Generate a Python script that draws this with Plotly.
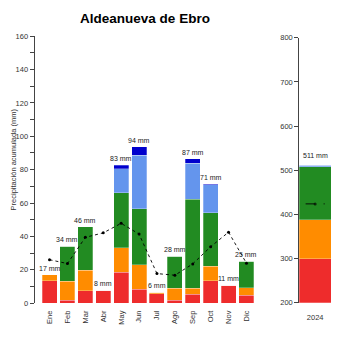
import plotly.graph_objects as go

months = ["Ene", "Feb", "Mar", "Abr", "May", "Jun", "Jul", "Ago", "Sep", "Oct", "Nov", "Dic"]
red = [13.4, 1.7, 7.4, 7.8, 18.6, 8.3, 5.6, 1.7, 5.4, 13.4, 10.8, 4.7]
orange = [3.6, 11.3, 12.4, 0, 14.6, 14.6, 0.8, 7.2, 3.5, 8.6, 0, 4.6]
green = [0, 21.2, 26.0, 0, 32.8, 33.6, 0, 19.1, 53.4, 32.2, 0, 15.9]
lightblue = [0, 0, 0, 0, 14.4, 32.2, 0, 0, 21.4, 16.7, 0, 0]
darkblue = [0, 0, 0, 0, 2.3, 5.0, 0, 0, 2.9, 0.4, 0, 0]
clim_mean = [26.0, 23.7, 39.4, 42.1, 47.8, 41.4, 17.7, 16.7, 23.5, 33.8, 42.5, 23.9]

year = ["2024"]
annual_red = [300]
annual_orange = [88]
annual_green = [119.5]
annual_lightblue = [3.5]
annual_darkblue = [0]
annual_mean = [424]
annual_total_label = [511]

colors = ["#EE2C2C", "#FF8C00", "#228B22", "#6495ED", "#0000CD"]
segments = [red, orange, green, lightblue, darkblue]
annual_segments = [annual_red, annual_orange, annual_green, annual_lightblue, annual_darkblue]

W, H = 350, 350
FONT = "Liberation Sans, Arial, sans-serif"
fig = go.Figure()

bw = 0.84
for seg, col in zip(segments, colors):
    fig.add_trace(go.Bar(x=months, y=seg, marker=dict(color=col, line=dict(color="rgba(255,255,255,0.45)", width=0.6)),
                         width=bw, xaxis="x", yaxis="y", showlegend=False))

fig.add_trace(go.Scatter(x=months, y=clim_mean, mode="lines+markers",
                         line=dict(color="black", width=0.9, dash="dot"),
                         marker=dict(color="black", size=3, line=dict(width=0)), xaxis="x", yaxis="y", showlegend=False))

# annual panel (numeric axis, bar at 0)
for seg, col in zip(annual_segments, colors):
    fig.add_trace(go.Bar(x=[0], y=seg, marker=dict(color=col, line=dict(color="rgba(255,255,255,0.45)", width=0.6)),
                         width=1.0, xaxis="x2", yaxis="y2", showlegend=False))
fig.add_trace(go.Scatter(x=[-0.3, 0, 0.3], y=annual_mean * 3, mode="lines+markers",
                         line=dict(color="black", width=0.9, dash="dash"),
                         marker=dict(color="black", size=[0, 3, 0], line=dict(width=0)),
                         xaxis="x2", yaxis="y2", showlegend=False))

annotations = []
totals = [sum(v) for v in zip(*segments)]
for m, t in zip(months, totals):
    annotations.append(dict(x=m, y=t, xref="x", yref="y", text=f"{round(t)} mm", showarrow=False,
                            yanchor="bottom", yshift=1, font=dict(size=7, color="#222", family=FONT)))
annotations.append(dict(x=0, y=annual_total_label[0], xref="x2", yref="y2", text=f"{annual_total_label[0]} mm",
                        showarrow=False, yanchor="bottom", yshift=4, font=dict(size=7, color="#222", family=FONT)))
annotations.append(dict(x=7 / W, y=1 - 160 / H, xref="paper", yref="paper", text="Precipitación acumulada (mm)",
                        textangle=-90, showarrow=False, font=dict(size=7.5, color="#333", family=FONT)))

tickfont = dict(size=7.5, color="#333", family=FONT)
fig.update_layout(
    width=W, height=H, margin=dict(l=0, r=0, t=0, b=0),
    paper_bgcolor="white", plot_bgcolor="white", barmode="stack",
    title=dict(text="<b>Aldeanueva de Ebro</b>", x=145 / W, xanchor="center", y=1 - 18 / H, yanchor="middle",
               font=dict(size=13.5, color="black", family=FONT)),
    xaxis=dict(domain=[33.6 / W, 262.4 / W], range=[-0.89, 11.89], showline=False, showgrid=False,
               ticks="", tickangle=-90, tickfont=tickfont, anchor="y", zeroline=False, ticklabelstandoff=5),
    yaxis=dict(domain=[(H - 307) / H, (H - 33) / H], range=[0, 160], showline=True, linecolor="#444", linewidth=1,
               ticks="outside", ticklen=4, tickcolor="#444", dtick=20, tick0=0, tickfont=tickfont,
               showgrid=False, zeroline=False, anchor="free", position=33.6 / W,
               minor=dict(dtick=10, tick0=0, ticks="outside", ticklen=4, tickcolor="#444", showgrid=False)),
    xaxis2=dict(domain=[298.3 / W, 332 / W], range=[-0.53, 0.53], tickvals=[0], ticktext=year, ticks="",
                showline=False, showgrid=False, zeroline=False, tickfont=tickfont, anchor="y2",
                ticklabelstandoff=9),
    yaxis2=dict(domain=[(H - 306.7) / H, (H - 34.7) / H], range=[200, 800], dtick=100, showline=True,
                linecolor="#444", linewidth=1, ticks="outside", ticklen=4, tickcolor="#444", tickfont=tickfont,
                showgrid=False, zeroline=False, anchor="free", position=298.3 / W),
    annotations=annotations,
)

fig.write_html("out.html")
